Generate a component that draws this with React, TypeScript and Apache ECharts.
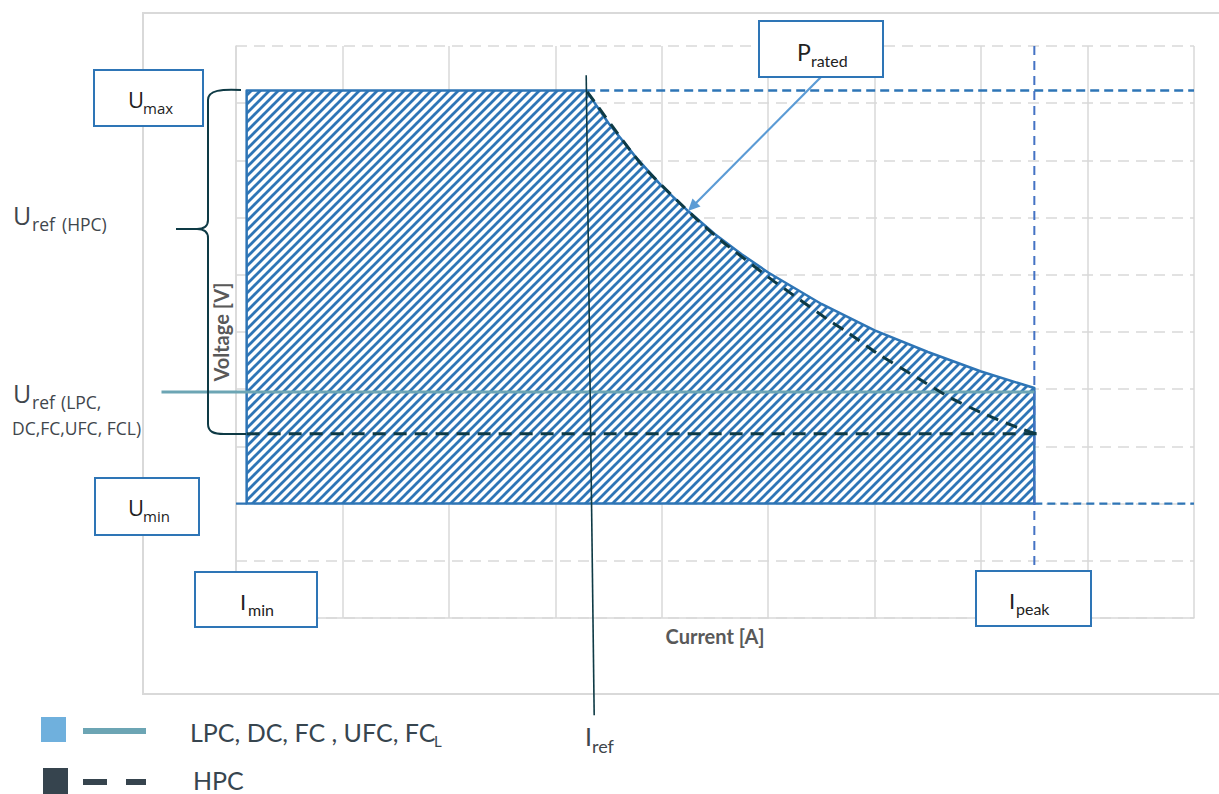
import React, { useEffect, useRef } from "react";
import * as echarts from "echarts";

// ---- data (x: current units, y: voltage units) ----
const uMin = 2.0;
const uMax = 9.22;
const iMin = 0.1;
const iRef = 3.29;
const iPeak = 7.5;
const uRefHpc = 3.22;
const uRefLpc = 3.95;
const xMax = 9;
const yMax = 10;

// rated power boundary (upper right edge of the operating area)
const pratedI = [3.29, 3.5, 3.75, 4.0, 4.25, 4.5, 4.75, 5.0, 5.5, 6.0, 6.5, 7.0, 7.5];
const pratedV = [9.22, 8.65, 8.07, 7.55, 7.11, 6.71, 6.36, 6.04, 5.49, 5.03, 4.65, 4.31, 4.02];

// HPC dashed boundary
const hpcI = [3.3, 3.8, 4.3, 4.55, 5.0, 5.21, 5.55, 5.74, 6.03, 6.4, 6.71, 7.05, 7.4, 7.52];
const hpcV = [9.2, 7.95, 7.02, 6.61, 5.96, 5.68, 5.23, 5.0, 4.62, 4.2, 3.85, 3.55, 3.29, 3.22];

// I_ref marker line (slightly tilted in the reference)
const irefLineI = [3.29, 3.365];
const irefLineV = [9.49, -1.7];
// U_ref (LPC) line starts left of the plot
const lpcLineI = [-0.7, 7.5];
const ipeakLineV = [10, 0.84];

const BLUE = "#2e75b6";
const DARK = "#0e3a45";
const TEAL = "#6ca5b4";
const LABEL = "#3f464c";

const tileSvg =
  "<svg xmlns='http://www.w3.org/2000/svg' width='9' height='9'>" +
  "<rect width='9' height='9' fill='white'/>" +
  "<path d='M-1,10 L10,-1 M-1,1 L1,-1 M8,10 L10,8' stroke='#2e75b6' stroke-width='2.8'/>" +
  "</svg>";
const hatch: any = {
  image: "data:image/svg+xml;charset=utf-8," + encodeURIComponent(tileSvg),
  repeat: "repeat",
  imageWidth: 9,
  imageHeight: 9,
};

function txt(x: number, baseline: number, text: string, size: number, family: string, color: string, weight: string = "normal") {
  return {
    type: "text",
    z: 110,
    silent: true,
    style: {
      text,
      x,
      y: baseline - 0.3 * size,
      fontSize: size,
      fontFamily: family,
      fontWeight: weight,
      fill: color,
      align: "left",
      verticalAlign: "middle",
    },
  };
}

function box(x: number, y: number, w: number, h: number) {
  return {
    type: "rect",
    z: 100,
    silent: true,
    shape: { x, y, width: w, height: h },
    style: { fill: "#ffffff", stroke: BLUE, lineWidth: 2 },
  };
}

const braceD =
  "M241,90 C222,89 208,90 208,100 L208,220 C208,227 203,229 197,229 L176,229 " +
  "M197,229 C203,229 208,231 208,238 L208,424 C208,432 214,434 224,434 L246,434";

let registered = false;

function pairs(xs: number[], ys: number[]) {
  return xs.map((x, i) => [x, ys[i]]);
}

export default function App() {
  const ref = useRef<HTMLDivElement>(null);
  useEffect(() => {
    if (!ref.current) return;
    if (!registered) {
      echarts.graphic.registerShape("brace", echarts.graphic.extendPath(braceD, {}) as any);
      registered = true;
    }
    const chart = echarts.init(ref.current, null, { renderer: "svg" });

    const envI = [iMin, iMin, ...pratedI, iPeak, iMin];
    const envV = [uMin, uMax, ...pratedV, uMin, uMin];

    const gridLine = { color: "#d9d9d9", width: 1.5 };

    const graphics: any[] = [
      // outer frame
      {
        type: "rect", z: -1, silent: true,
        shape: { x: 143, y: 13, width: 1080, height: 681 },
        style: { fill: "none", stroke: "#d9d9d9", lineWidth: 2 },
      },
      // brace
      {
        type: "brace", z: 90, silent: true, x: 0, y: 0, scaleX: 1, scaleY: 1,
        style: { fill: "none", stroke: DARK, lineWidth: 2 },
      },
      // P_rated arrow
      {
        type: "line", z: 95, silent: true,
        shape: { x1: 821, y1: 77, x2: 696, y2: 203 },
        style: { stroke: "#5b9bd5", lineWidth: 2.2 },
      },
      {
        type: "polygon", z: 95, silent: true,
        shape: { points: [[688, 211], [700.5, 206.5], [692.5, 198.5]] },
        style: { fill: "#5b9bd5" },
      },
      // boxes
      box(94, 70, 109, 56),
      box(95, 478, 104, 57),
      box(195, 572, 122, 55),
      box(976, 571, 115, 55),
      box(759, 21, 124, 56),
      // box labels
      txt(128, 106, "U", 22, "Open Sans", "#222"),
      txt(143, 112, "max", 15, "Open Sans", "#222"),
      txt(128, 514, "U", 22, "Open Sans", "#222"),
      txt(143, 520, "min", 15, "Open Sans", "#222"),
      txt(240, 608, "I", 22, "Lato", "#222"),
      txt(248, 614, "min", 16, "Lato", "#222"),
      txt(1009, 607, "I", 22, "Lato", "#222"),
      txt(1016, 613, "peak", 16, "Lato", "#222"),
      txt(797, 59, "P", 23, "Lato", "#222"),
      txt(811, 65, "rated", 16, "Lato", "#222"),
      // left labels
      txt(13, 222, "U", 25, "Open Sans", LABEL),
      txt(32, 229, "ref", 17.5, "Open Sans", LABEL),
      txt(62, 229, "(HPC)", 17.5, "Open Sans", LABEL),
      txt(13, 400, "U", 25, "Open Sans", LABEL),
      txt(32, 407, "ref", 17.5, "Open Sans", LABEL),
      txt(61, 407, "(LPC,", 17.5, "Open Sans", LABEL),
      txt(12, 433, "DC,FC,UFC, FCL)", 17.5, "Open Sans", LABEL),
      // I_ref label
      txt(585, 743, "I", 25, "Lato", LABEL),
      txt(592, 751, "ref", 18, "Lato", LABEL),
      // legend
      {
        type: "rect", z: 100, silent: true,
        shape: { x: 41, y: 717, width: 25, height: 25 },
        style: { fill: "#6fb0dd" },
      },
      {
        type: "line", z: 100, silent: true,
        shape: { x1: 83, y1: 731, x2: 146, y2: 731 },
        style: { stroke: TEAL, lineWidth: 6 },
      },
      txt(190, 739, "LPC, DC, FC , UFC, FC", 25, "Lato", "#37454f"),
      txt(434, 745, "L", 15, "Lato", "#37454f"),
      {
        type: "rect", z: 100, silent: true,
        shape: { x: 43, y: 768, width: 25, height: 30 },
        style: { fill: "#36444e" },
      },
      {
        type: "line", z: 100, silent: true,
        shape: { x1: 83, y1: 782, x2: 107, y2: 782 },
        style: { stroke: "#36444e", lineWidth: 6 },
      },
      {
        type: "line", z: 100, silent: true,
        shape: { x1: 126, y1: 782, x2: 146, y2: 782 },
        style: { stroke: "#36444e", lineWidth: 6 },
      },
      txt(193, 787, "HPC", 25, "Lato", "#37454f"),
    ];

    const option: any = {
      animation: false,
      grid: { left: 236, top: 46, width: 958, height: 572, containLabel: false },
      xAxis: {
        type: "value",
        min: 0,
        max: xMax,
        interval: 1,
        name: "Current [A]",
        nameLocation: "middle",
        nameGap: 8,
        nameTextStyle: { fontFamily: "Lato", fontWeight: "bold", fontSize: 20, color: "#595959", verticalAlign: "top" },
        axisLabel: { show: false },
        axisTick: { show: false },
        axisLine: { show: true, lineStyle: gridLine },
        splitLine: { show: true, lineStyle: gridLine },
      },
      yAxis: {
        type: "value",
        min: 0,
        max: yMax,
        interval: 1,
        name: "Voltage [V]",
        nameLocation: "middle",
        nameGap: 5,
        nameRotate: 90,
        nameTextStyle: { fontFamily: "Lato", fontWeight: "bold", fontSize: 20, color: "#595959" },
        axisLabel: { show: false },
        axisTick: { show: false },
        axisLine: { show: true, lineStyle: gridLine },
        splitLine: { show: true, lineStyle: { color: "#d9d9d9", width: 1.5, type: [11, 7] } },
      },
      series: [
        {
          type: "custom",
          silent: true,
          clip: false,
          z: 2,
          data: [[envI[0], envV[0]]],
          renderItem: (_params: any, api: any) => {
            const pts = envI.map((x, i) => api.coord([x, envV[i]]));
            return {
              type: "polygon",
              shape: { points: pts },
              style: { fill: hatch, stroke: BLUE, lineWidth: 2.5, lineJoin: "round" },
            };
          },
        },
        // U_max dashed extension
        {
          type: "line", silent: true, symbol: "none", z: 3,
          data: [[iRef, uMax], [xMax, uMax]],
          lineStyle: { color: BLUE, width: 2.5, type: [9, 5] },
        },
        // U_min dashed extensions
        {
          type: "line", silent: true, symbol: "none", z: 3,
          data: [[iPeak, uMin], [xMax, uMin]],
          lineStyle: { color: BLUE, width: 2.2, type: [8, 5] },
        },
        {
          type: "line", silent: true, symbol: "none", z: 3,
          data: [[0, uMin], [iMin, uMin]],
          lineStyle: { color: BLUE, width: 2.2 },
        },
        // I_peak vertical dashed
        {
          type: "line", silent: true, symbol: "none", z: 3,
          data: [[iPeak, ipeakLineV[0]], [iPeak, ipeakLineV[1]]],
          lineStyle: { color: "#4472c4", width: 2, type: [9, 6] },
        },
        // HPC dashed curve
        {
          type: "line", silent: true, symbol: "none", z: 5, clip: false, smooth: 0.2,
          data: pairs(hpcI, hpcV),
          lineStyle: { color: DARK, width: 3, type: [12, 8] },
        },
        // HPC U_ref dashed horizontal
        {
          type: "line", silent: true, symbol: "none", z: 5, clip: false,
          data: [[iMin, uRefHpc], [7.55, uRefHpc]],
          lineStyle: { color: DARK, width: 3, type: [13, 8] },
        },
        // I_ref line
        {
          type: "line", silent: true, symbol: "none", z: 6, clip: false,
          data: pairs(irefLineI, irefLineV),
          lineStyle: { color: DARK, width: 1.6 },
        },
      ],
      graphic: graphics,
    };
    chart.setOption(option);

    // U_ref (LPC) teal line: extends left of the plot area, so place it via the axes' own scales
    const p0 = chart.convertToPixel({ gridIndex: 0 }, [lpcLineI[0], uRefLpc]) as number[];
    const p1 = chart.convertToPixel({ gridIndex: 0 }, [lpcLineI[1], uRefLpc]) as number[];
    if (p0 && p1) {
      chart.setOption({
        graphic: [
          ...graphics,
          {
            type: "line", z: 4, silent: true,
            shape: { x1: p0[0], y1: p0[1], x2: p1[0], y2: p1[1] },
            style: { stroke: TEAL, lineWidth: 3 },
          },
        ],
      }, { replaceMerge: ["graphic"] } as any);
    }
    return () => chart.dispose();
  }, []);
  return (
    <div
      ref={ref}
      style={{ position: "fixed", left: 0, top: 0, width: 1219, height: 794, background: "#ffffff" }}
    />
  );
}
